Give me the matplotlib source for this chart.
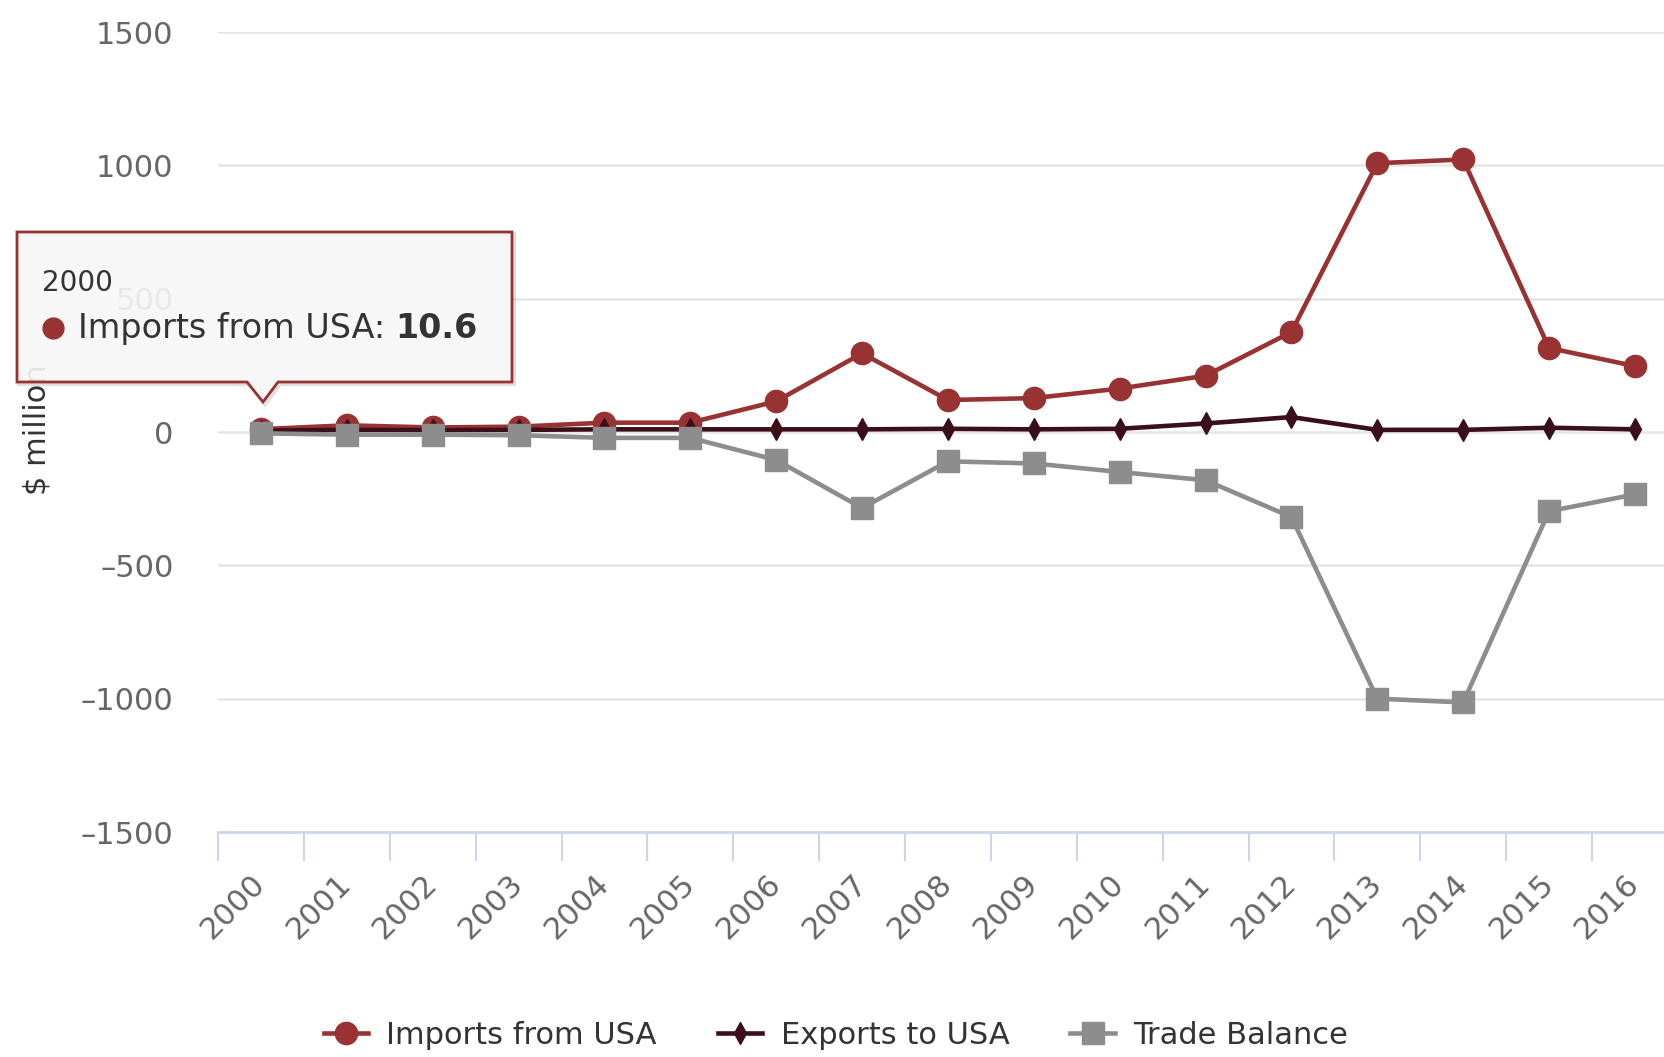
import matplotlib
matplotlib.use("Agg")
import matplotlib.pyplot as plt
from matplotlib.patches import Polygon
from matplotlib.lines import Line2D
import numpy as np

# ---- data ----
years = [str(y) for y in range(2000, 2017)]
imports_usa = [10.6, 25, 17, 20, 35, 35, 115, 295, 120, 127, 163, 211, 375, 1008, 1022, 315, 247]
exports_usa = [5, 8, 7, 8, 10, 10, 10, 10, 12, 10, 12, 32, 56, 8, 8, 16, 10]
trade_balance = [-5, -10, -10, -12, -22, -22, -105, -285, -110, -118, -150, -181, -319, -1000, -1014, -297, -234]
y_ticks = [-1500, -1000, -500, 0, 500, 1000, 1500]
series_names = ["Imports from USA", "Exports to USA", "Trade Balance"]

W, H = 1665, 1057
plt.rcParams['font.family'] = ['DejaVu Sans']
fig = plt.figure(figsize=(W / 100, H / 100), dpi=100)

def fx(x):
    return x / W

def fy(y):
    return 1 - y / H

ax_left, ax_top, ax_bottom = 218, 32, 832
ax = fig.add_axes([fx(ax_left), fy(ax_bottom), 1 - fx(ax_left), (ax_bottom - ax_top) / H])

x = np.arange(len(years))
red, dark, gray = '#993333', '#3b0f19', '#8d8d8d'
ax.plot(x, imports_usa, color=red, lw=3.3, marker='o', ms=16, zorder=3, label=series_names[0])
ax.plot(x, exports_usa, color=dark, lw=3.3, marker='d', ms=11, zorder=4, label=series_names[1])
ax.plot(x, trade_balance, color=gray, lw=3.3, marker='s', ms=16, zorder=5, label=series_names[2])

ax.set_xlim(-0.5, 16.35)
ax.set_ylim(-1500, 1500)
ax.set_yticks(y_ticks)
ax.set_yticklabels([str(v).replace('-', '\u2013') for v in y_ticks])
ax.yaxis.grid(True, color='#e6e6e6', lw=1.8, zorder=0)
ax.set_axisbelow(True)
ax.tick_params(axis='y', length=0, pad=32, labelsize=22, labelcolor='#666666')

ax.set_xticks(x)
ax.set_xticklabels(years, rotation=45, ha='right', va='center', rotation_mode='anchor')
ax.tick_params(axis='x', which='major', length=0, pad=34, labelsize=22, labelcolor='#666666')
ax.set_xticks(np.arange(-0.5, 16.5, 1), minor=True)
ax.tick_params(axis='x', which='minor', length=21, width=1.5, color='#ccd6eb')

for s in ['top', 'right', 'left']:
    ax.spines[s].set_visible(False)
ax.spines['bottom'].set_color('#ccd6eb')
ax.spines['bottom'].set_linewidth(2)
ax.spines['bottom'].set_zorder(1)

# y axis title
fig.text(fx(37), fy(430), '$ million', rotation=90, fontsize=22, color='#333333',
         ha='center', va='center')

# legend
handles = [Line2D([], [], color=red, lw=3.3, marker='o', ms=16),
           Line2D([], [], color=dark, lw=3.3, marker='d', ms=11),
           Line2D([], [], color=gray, lw=3.3, marker='s', ms=16)]
fig.legend(handles, series_names, loc='center', bbox_to_anchor=(0.502, fy(1035)), ncol=3,
           frameon=False, fontsize=22, handlelength=1.45, handletextpad=0.6,
           columnspacing=2.0, labelcolor='#333333')

# tooltip
L, R, T, B = 17, 512, 232, 382
pb1, pb2, tipx, tipy = 247, 278, 263, 402
pts = [(L, T), (R, T), (R, B), (pb2, B), (tipx, tipy), (pb1, B), (L, B)]
shadow = Polygon([(fx(px + 2), fy(py + 2)) for px, py in pts], closed=True,
                 transform=fig.transFigure, facecolor='none', alpha=0.12,
                 edgecolor='#000000', lw=3, zorder=9)
fig.add_artist(shadow)
tip = Polygon([(fx(px), fy(py)) for px, py in pts], closed=True, transform=fig.transFigure,
              facecolor='#f7f7f7', alpha=0.9, edgecolor='none', zorder=10)
fig.add_artist(tip)
tip_edge = Polygon([(fx(px), fy(py)) for px, py in pts], closed=True, transform=fig.transFigure,
                   facecolor='none', edgecolor=red, lw=2, zorder=11)
fig.add_artist(tip_edge)

fig.text(fx(42), fy(283), years[0], fontsize=20, color='#333333', va='center', zorder=12)
fig.add_artist(Line2D([fx(53)], [fy(328)], marker='o', ms=15, color=red,
                      transform=fig.transFigure, zorder=12))
t1 = fig.text(fx(78), fy(328), series_names[0] + ': ', fontsize=24, color='#333333',
              va='center', zorder=12)
fig.canvas.draw()
bb = t1.get_window_extent()
fig.text(bb.x1 / W, fy(328), str(imports_usa[0]), fontsize=24, color='#333333',
         fontweight='bold', va='center', zorder=12)

fig.savefig('out.png', dpi=100)
